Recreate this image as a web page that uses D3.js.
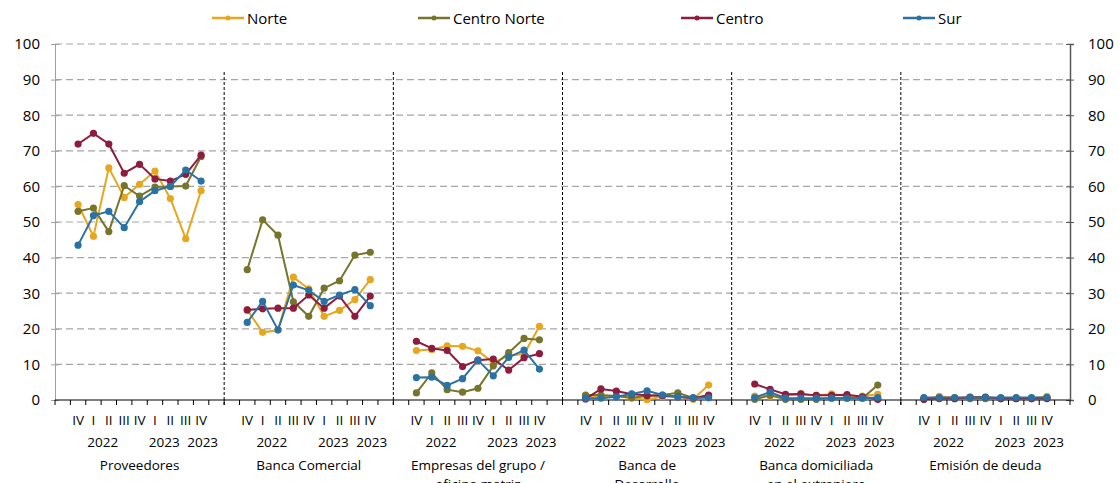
<html>
<head>
<script src="https://d3js.org/d3.v7.min.js"></script>
<style>
body { margin: 0; background: #fff; }
text { font-family: "Open Sans", "Noto Sans", sans-serif; fill: #000; }
</style>
</head>
<body>
<svg id="chart" width="1119" height="483"></svg>
<script>
// categories
var groups = [["Proveedores"], ["Banca Comercial"], ["Empresas del grupo /", "oficina matriz"],
              ["Banca de", "Desarrollo"], ["Banca domiciliada", "en el extranjero"], ["Emisión  de deuda"]];
var quarters = ["IV", "I", "II", "III", "IV", "I", "II", "III", "IV"];
var yearLabels = [["2022", 2.1], ["2023", 6.1], ["2023", 8.6]];
var seriesNames = ["Norte", "Centro Norte", "Centro", "Sur"];
var yTicks = [0, 10, 20, 30, 40, 50, 60, 70, 80, 90, 100];

// values per group, 9 quarters each
var norte = [
  [54.9, 46.0, 65.2, 56.9, 60.6, 64.3, 56.6, 45.3, 58.8],
  [25.3, 19.0, 19.6, 34.5, 31.2, 23.5, 25.2, 28.2, 33.8],
  [13.9, 14.2, 15.2, 15.1, 13.8, 10.5, 12.5, 12.9, 20.7],
  [1.2, 1.0, 1.2, 0.5, 0.1, 1.0, 1.0, 0.2, 4.2],
  [1.1, 1.1, 1.2, 1.7, 1.3, 1.7, 1.1, 1.1, 1.6],
  [0.2, 1.0, 0.7, 0.7, 0.7, 0.5, 0.5, 0.5, 1.0]
];
var centroNorte = [
  [53.0, 53.9, 47.3, 60.2, 57.3, 59.8, 60.0, 60.1, 68.4],
  [36.6, 50.6, 46.3, 27.6, 23.5, 31.4, 33.5, 40.7, 41.5],
  [2.0, 7.6, 2.9, 2.2, 3.3, 9.6, 13.3, 17.3, 16.9],
  [1.4, 1.4, 1.1, 0.6, 1.1, 1.4, 2.0, 0.6, 0.9],
  [0.2, 1.3, 0.2, 0.2, 0.2, 0.5, 0.5, 0.5, 4.2],
  [0.3, 0.4, 0.4, 0.4, 0.4, 0.4, 0.4, 0.4, 0.6]
];
var centro = [
  [71.9, 74.9, 71.9, 63.7, 66.2, 62.1, 61.5, 63.4, 68.8],
  [25.3, 25.6, 25.8, 25.8, 29.5, 25.8, 29.2, 23.5, 29.2],
  [16.5, 14.5, 13.9, 9.4, 11.2, 11.5, 8.4, 11.9, 13.0],
  [0.3, 3.1, 2.5, 1.6, 1.3, 1.2, 0.9, 0.5, 1.4],
  [4.5, 3.0, 1.6, 1.7, 1.3, 1.3, 1.5, 0.9, 0.2],
  [0.2, 0.5, 0.4, 0.8, 0.8, 0.4, 0.4, 0.4, 0.4]
];
var sur = [
  [43.5, 51.8, 53.0, 48.4, 55.7, 58.8, 60.0, 64.6, 61.5],
  [21.8, 27.7, 19.7, 32.3, 30.8, 27.7, 29.5, 31.0, 26.5],
  [6.3, 6.4, 4.1, 6.0, 11.2, 6.8, 12.0, 14.0, 8.7],
  [0.5, 0.5, 0.9, 1.7, 2.6, 1.4, 0.9, 0.6, 0.6],
  [0.7, 2.2, 0.5, 0.5, 0.5, 0.5, 0.5, 0.5, 0.7],
  [0.7, 0.7, 0.7, 0.7, 0.7, 0.7, 0.7, 0.7, 0.7]
];
var colors = ["#E6A71E", "#77752B", "#8E1C3F", "#2A72A3"];
var allSeries = [norte, centroNorte, centro, sur];

var svg = d3.select("#chart");
var plotLeft = 55, plotRight = 1070, plotTop = 44, plotBottom = 400;
var slotsPerGroup = 11;
var nSlots = groups.length * slotsPerGroup;

var x = d3.scaleLinear().domain([0, nSlots]).range([plotLeft, plotRight]);
var y = d3.scaleLinear().domain([0, 100]).range([plotBottom, plotTop]);

// gridlines
svg.selectAll("line.grid").data(yTicks.slice(1)).enter().append("line")
  .attr("class", "grid")
  .attr("x1", plotLeft).attr("x2", plotRight)
  .attr("y1", d => y(d)).attr("y2", d => y(d))
  .attr("stroke", "#a6a6a6").attr("stroke-width", 1.2)
  .attr("stroke-dasharray", "7,4");

// left axis
var leftAxis = svg.append("g").attr("transform", "translate(" + plotLeft + ",0)")
  .call(d3.axisLeft(y).tickValues(yTicks).tickSize(4).tickPadding(11));
leftAxis.select(".domain").attr("stroke", "#a0a0a0");
leftAxis.selectAll(".tick line").attr("stroke", "#a0a0a0").attr("x2", 4).attr("x1", -4);
leftAxis.selectAll("text").style("font-size", "15px").style("font-family", "Open Sans");

// right axis
var rightAxis = svg.append("g").attr("transform", "translate(" + plotRight + ",0)")
  .call(d3.axisRight(y).tickValues(yTicks).tickSize(4).tickPadding(14));
rightAxis.select(".domain").attr("stroke", "#595959").attr("stroke-width", 1.5);
rightAxis.selectAll(".tick line").attr("stroke", "#595959").attr("x1", -4).attr("x2", 4);
rightAxis.selectAll("text").style("font-size", "15px").style("font-family", "Open Sans");

// group separators
svg.selectAll("line.sep").data(d3.range(1, groups.length)).enter().append("line")
  .attr("class", "sep")
  .attr("x1", d => x(d * slotsPerGroup)).attr("x2", d => x(d * slotsPerGroup))
  .attr("y1", 72).attr("y2", plotBottom + 6)
  .attr("stroke", "#000").attr("stroke-width", 1)
  .attr("stroke-dasharray", "3,2");

// bottom axis
svg.append("line").attr("x1", plotLeft).attr("x2", plotRight).attr("y1", plotBottom).attr("y2", plotBottom)
  .attr("stroke", "#000").attr("stroke-width", 1.2);
svg.selectAll("line.xtick").data(d3.range(0, nSlots + 1)).enter().append("line")
  .attr("class", "xtick")
  .attr("x1", d => x(d)).attr("x2", d => x(d))
  .attr("y1", plotBottom).attr("y2", plotBottom + 5)
  .attr("stroke", "#000").attr("stroke-width", 1);

// category labels
groups.forEach(function(name, g) {
  var base = g * slotsPerGroup + 1;
  quarters.forEach(function(q, i) {
    svg.append("text")
      .attr("x", x(base + i + 0.5)).attr("y", 425)
      .attr("text-anchor", "middle")
      .style("font-size", "13.5px")
      .text(q);
  });
  yearLabels.forEach(function(yl) {
    svg.append("text")
      .attr("x", x(base + yl[1])).attr("y", 447)
      .attr("text-anchor", "middle")
      .style("font-size", "13.5px")
      .text(yl[0]);
  });
  name.forEach(function(line, k) {
    svg.append("text")
      .attr("x", x(g * slotsPerGroup + slotsPerGroup / 2)).attr("y", 470 + k * 19)
      .attr("text-anchor", "middle")
      .style("font-size", "13.5px")
      .text(line);
  });
});

// series lines and markers
var lineGen = d3.line()
  .x(d => x(d.slot + 0.5))
  .y(d => y(d.v));

allSeries.forEach(function(series, s) {
  series.forEach(function(vals, g) {
    var pts = vals.map(function(v, i) { return { slot: g * slotsPerGroup + 1 + i, v: v }; });
    svg.append("path").datum(pts)
      .attr("d", lineGen)
      .attr("fill", "none")
      .attr("stroke", colors[s])
      .attr("stroke-width", 2);
    svg.selectAll(null).data(pts).enter().append("circle")
      .attr("cx", d => x(d.slot + 0.5))
      .attr("cy", d => y(d.v))
      .attr("r", 3.6)
      .attr("fill", colors[s]);
  });
});

// legend
var legendX = [212, 418, 681, 903];
seriesNames.forEach(function(name, i) {
  var lg = svg.append("g").attr("transform", "translate(" + legendX[i] + ",18)");
  lg.append("line").attr("x1", 0).attr("x2", 32).attr("y1", 0).attr("y2", 0)
    .attr("stroke", colors[i]).attr("stroke-width", 2.5);
  lg.append("circle").attr("cx", 16).attr("cy", 0).attr("r", 2.5).attr("fill", colors[i]);
  lg.append("text").attr("x", 35).attr("y", 5.5)
    .style("font-size", "15px").text(name);
});
</script>
</body>
</html>
